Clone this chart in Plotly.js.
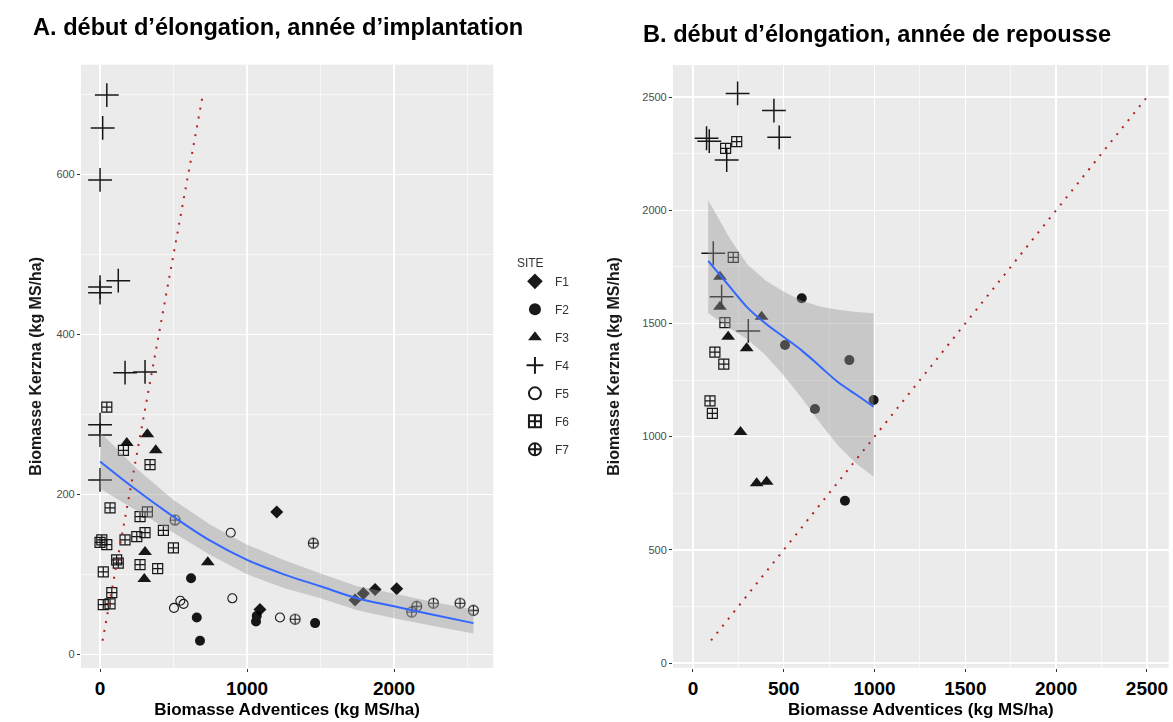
<!DOCTYPE html>
<html>
<head>
<meta charset="utf-8">
<script src="https://cdn.plot.ly/plotly-3.0.1.min.js"></script>
<style>html,body{margin:0;padding:0;background:#fff;}#chart{width:1173px;height:722px;}</style>
</head>
<body>
<div id="chart"></div>
<script>
// ---------- Panel A : année d'implantation ----------
const F1A_x = [1202, 1088, 1735, 1791, 1871, 2018];
const F1A_y = [178, 56, 68, 76, 81, 82];
const F2A_x = [619, 658, 680, 1061, 1066, 1463];
const F2A_y = [95, 46, 17, 41, 48, 39];
const F3A_x = [182, 322, 379, 306, 301, 733];
const F3A_y = [264, 275, 255, 128, 94, 115];
const F4A_x = [46, 18, 0, 0, 0, 124, 170, 306, 0, 0, 0];
const F4A_y = [699, 658, 593, 459, 452, 467, 352, 353, 287, 274, 218];
const F5A_x = [889, 900, 503, 546, 568, 1224];
const F5A_y = [152, 70, 58, 67, 63, 46];
const F6A_x = [46, 159, 340, 68, 272, 322, 0, 12, 46, 170, 250, 306, 431, 499, 113, 124, 272, 392, 22, 80, 22, 68];
const F6A_y = [309, 255, 237, 183, 172, 178, 140, 143, 137, 143, 147, 152, 155, 133, 118, 114, 112, 107, 103, 77, 62, 63];
const F7A_x = [510, 1327, 1451, 2120, 2154, 2268, 2449, 2540];
const F7A_y = [168, 44, 139, 53, 60, 64, 64, 55];

const fitA_x  = [0, 250, 500, 750, 1000, 1250, 1500, 1750, 2000, 2250, 2540];
const fitA_y  = [241, 205, 172, 142, 118, 100, 85, 70, 60, 50, 39];
const fitA_lo = [207, 180, 152, 124, 100, 83, 70, 55, 45, 36, 26];
const fitA_hi = [278, 232, 193, 162, 137, 118, 101, 85, 76, 66, 56];
const diagA = [17, 700];

// ---------- Panel B : année de repousse ----------
const F2B_x = [599, 507, 861, 672, 837, 995];
const F2B_y = [1611, 1405, 1338, 1122, 717, 1162];
const F3B_x = [149, 149, 194, 296, 378, 262, 351, 406];
const F3B_y = [1706, 1574, 1441, 1390, 1530, 1020, 794, 801];
const F4B_x = [246, 446, 475, 75, 90, 186, 112, 158, 305];
const F4B_y = [2516, 2440, 2322, 2318, 2305, 2222, 1810, 1618, 1467];
const F6B_x = [241, 180, 222, 176, 121, 170, 94, 107];
const F6B_y = [2303, 2273, 1792, 1504, 1373, 1320, 1158, 1103];

const fitB_x  = [84, 200, 300, 400, 500, 600, 700, 800, 900, 995];
const fitB_y  = [1776, 1665, 1570, 1500, 1440, 1380, 1310, 1240, 1185, 1132];
const fitB_lo = [1546, 1480, 1430, 1360, 1270, 1170, 1060, 960, 880, 823];
const fitB_hi = [2045, 1880, 1760, 1690, 1640, 1600, 1575, 1560, 1550, 1545];
const diagB = [100, 2500];

const sites = ['F1', 'F2', 'F3', 'F4', 'F5', 'F6', 'F7'];
const xTicksA = [0, 1000, 2000];
const yTicksA = [0, 200, 400, 600];
const xTicksB = [0, 500, 1000, 1500, 2000, 2500];
const yTicksB = [0, 500, 1000, 1500, 2000, 2500];

const titleA = 'A. début d’élongation, année d’implantation';
const titleB = 'B. début d’élongation, année de repousse';
const xLabel = 'Biomasse Adventices (kg MS/ha)';
const yLabel = 'Biomasse Kerzna (kg MS/ha)';

// ---------- styles ----------
const markerStyle = {
  F1: {symbol: 'diamond', size: 10, color: '#000', line: {width: 0}},
  F2: {symbol: 'circle', size: 10, color: '#000', line: {width: 0}},
  F3: {symbol: 'triangle-up', size: 12, color: '#000', line: {width: 0}},
  F4: {symbol: 'cross-thin-open', size: 17, color: '#000', line: {width: 1.5, color: '#000'}},
  F5: {symbol: 'circle-open', size: 9, color: '#000', line: {width: 1.1, color: '#000'}},
  F6: {symbol: 'square-cross-open', size: 10, color: '#000', line: {width: 1.2, color: '#000'}},
  F7: {symbol: 'circle-cross-open', size: 10, color: '#000', line: {width: 1.1, color: '#000'}}
};

const dataA = {F1: [F1A_x, F1A_y], F2: [F2A_x, F2A_y], F3: [F3A_x, F3A_y], F4: [F4A_x, F4A_y],
               F5: [F5A_x, F5A_y], F6: [F6A_x, F6A_y], F7: [F7A_x, F7A_y]};
const dataB = {F2: [F2B_x, F2B_y], F3: [F3B_x, F3B_y], F4: [F4B_x, F4B_y], F6: [F6B_x, F6B_y]};

const traces = [];
sites.forEach(s => {
  traces.push({type: 'scatter', mode: 'markers', x: dataA[s][0], y: dataA[s][1],
    name: s, legendgroup: s, showlegend: true, marker: markerStyle[s],
    xaxis: 'x', yaxis: 'y', opacity: 0.9, hoverinfo: 'x+y+name'});
  if (dataB[s]) {
    traces.push({type: 'scatter', mode: 'markers', x: dataB[s][0], y: dataB[s][1],
      name: s, legendgroup: s, showlegend: false, marker: markerStyle[s],
      xaxis: 'x2', yaxis: 'y2', opacity: 0.9, hoverinfo: 'x+y+name'});
  }
});

function ribbon(xs, lo, hi, xa, ya) {
  traces.push({type: 'scatter', mode: 'lines', x: xs, y: lo, line: {width: 0, color: 'rgba(0,0,0,0)'},
    showlegend: false, hoverinfo: 'skip', xaxis: xa, yaxis: ya});
  traces.push({type: 'scatter', mode: 'lines', x: xs, y: hi, fill: 'tonexty',
    fillcolor: 'rgba(153,153,153,0.42)', line: {width: 0, color: 'rgba(0,0,0,0)'},
    showlegend: false, hoverinfo: 'skip', xaxis: xa, yaxis: ya});
}
ribbon(fitA_x, fitA_lo, fitA_hi, 'x', 'y');
ribbon(fitB_x, fitB_lo, fitB_hi, 'x2', 'y2');

traces.push({type: 'scatter', mode: 'lines', x: fitA_x, y: fitA_y, line: {color: '#3366FF', width: 2, shape: 'spline'},
  showlegend: false, xaxis: 'x', yaxis: 'y'});
traces.push({type: 'scatter', mode: 'lines', x: fitB_x, y: fitB_y, line: {color: '#3366FF', width: 2, shape: 'spline'},
  showlegend: false, xaxis: 'x2', yaxis: 'y2'});

traces.push({type: 'scatter', mode: 'lines', x: diagA, y: diagA, line: {color: '#B22222', width: 2, dash: '2px,7px'},
  showlegend: false, xaxis: 'x', yaxis: 'y', hoverinfo: 'skip'});
traces.push({type: 'scatter', mode: 'lines', x: diagB, y: diagB, line: {color: '#B22222', width: 2, dash: '2px,7px'},
  showlegend: false, xaxis: 'x2', yaxis: 'y2', hoverinfo: 'skip'});

const FONT = 'Liberation Sans, Arial, sans-serif';
function xAxis(domain, range, ticks, minorTick0, minorDtick) {
  return {domain: domain, range: range, tickmode: 'array', tickvals: ticks, ticktext: ticks.map(String),
    showgrid: true, gridcolor: '#FFFFFF', gridwidth: 1.4, zeroline: false, showline: false,
    ticks: 'outside', ticklen: 3, tickwidth: 1, tickcolor: '#333333',
    tickfont: {family: FONT, size: 19, color: '#000', weight: 700},
    minor: {tick0: minorTick0, dtick: minorDtick, showgrid: true, gridcolor: '#FFFFFF', gridwidth: 0.6, ticklen: 0},
    title: {text: xLabel, font: {family: FONT, size: 17, color: '#000', weight: 700}, standoff: 5},
    fixedrange: true};
}
function yAxis(domain, range, ticks, minorTick0, minorDtick, standoff) {
  return {domain: domain, range: range, tickmode: 'array', tickvals: ticks, ticktext: ticks.map(String),
    showgrid: true, gridcolor: '#FFFFFF', gridwidth: 1.4, zeroline: false, showline: false,
    ticks: 'outside', ticklen: 3, tickwidth: 1, tickcolor: '#333333',
    tickfont: {family: FONT, size: 11, color: '#4D4D4D'},
    minor: {tick0: minorTick0, dtick: minorDtick, showgrid: true, gridcolor: '#FFFFFF', gridwidth: 0.6, ticklen: 0},
    title: {text: yLabel, font: {family: FONT, size: 16, color: '#1a1a1a', weight: 700}, standoff: standoff},
    fixedrange: true};
}

const layout = {
  width: 1173, height: 722,
  margin: {l: 0, r: 0, t: 0, b: 0},
  paper_bgcolor: '#FFFFFF', plot_bgcolor: '#EBEBEB',
  font: {family: FONT, color: '#000'},
  xaxis: xAxis([0.069, 0.4205], [-130, 2675], xTicksA, 500, 1000),
  yaxis: Object.assign(yAxis([0.0749, 0.9104], [-17, 737], yTicksA, 100, 200, 10), {anchor: 'x'}),
  xaxis2: Object.assign(xAxis([0.5737, 0.9964], [-110, 2620], xTicksB, 250, 500), {anchor: 'y2'}),
  yaxis2: Object.assign(yAxis([0.0751, 0.9098], [-21, 2641], yTicksB, 250, 500, 18), {anchor: 'x2'}),
  showlegend: true,
  legend: {x: 0.439, y: 0.652, xanchor: 'left', yanchor: 'top', bgcolor: 'rgba(255,255,255,0)',
    title: {text: 'SITE', font: {family: FONT, size: 12, color: '#333'}},
    font: {family: FONT, size: 12, color: '#333'}, traceorder: 'grouped', tracegroupgap: 9,
    itemsizing: 'constant', itemwidth: 30},
  annotations: [
    {text: titleA, x: 0.2370, y: 0.962, xref: 'paper', yref: 'paper', xanchor: 'center', yanchor: 'middle',
     showarrow: false, font: {family: FONT, size: 23.6, color: '#000', weight: 700}},
    {text: titleB, x: 0.7477, y: 0.953, xref: 'paper', yref: 'paper', xanchor: 'center', yanchor: 'middle',
     showarrow: false, font: {family: FONT, size: 23.6, color: '#000', weight: 700}}
  ]
};

Plotly.newPlot('chart', traces, layout, {displayModeBar: false, staticPlot: true});
</script>
</body>
</html>
